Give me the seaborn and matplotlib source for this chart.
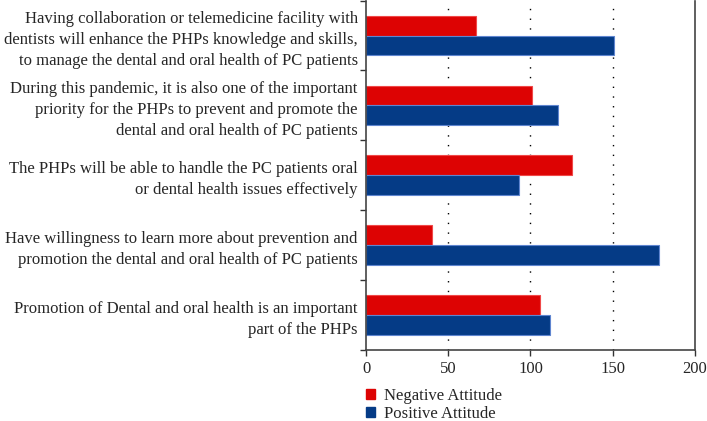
import pandas as pd
import seaborn as sns
import matplotlib.pyplot as plt
from matplotlib.ticker import FixedLocator
from matplotlib.patches import Patch

# Survey statements (top to bottom) and counts
statements = [
    'Having collaboration or telemedicine facility with\ndentists will enhance the PHPs knowledge and skills,\nto manage the dental and oral health of PC patients',
    'During this pandemic, it is also one of the important\npriority for the PHPs to prevent and promote the\ndental and oral health of PC patients',
    'The PHPs will be able to handle the PC patients oral\nor dental health issues effectively',
    'Have willingness to learn more about prevention and\npromotion the dental and oral health of PC patients',
    'Promotion of Dental and oral health is an important\npart of the PHPs',
]
negative = [67, 101, 125, 40, 106]
positive = [151, 117, 93, 178, 112]
series_names = ['Negative Attitude', 'Positive Attitude']
colors = ['#DD0303', '#053B86']

df = pd.DataFrame({'Statement': statements * 2,
                   'Count': negative + positive,
                   'Attitude': [series_names[0]] * 5 + [series_names[1]] * 5})

sns.set_style('white')
plt.rcParams['font.family'] = ['Liberation Serif', 'DejaVu Serif']

fig = plt.figure(figsize=(7.07, 4.21), dpi=100)
ax = fig.add_axes([0.5177, 0.1686, 0.4653, 0.8300])

sns.barplot(data=df, y='Statement', x='Count', hue='Attitude', order=statements,
            hue_order=series_names, palette=colors, orient='h', width=0.57,
            gap=0, saturation=1, linewidth=0.8, legend=False, ax=ax)
for bar, c in zip(ax.patches, [colors[0]] * 5 + [colors[1]] * 5):
    bar.set_edgecolor('#5f85d0' if c == colors[1] else '#f04848')

ax.set_xlim(0, 200)
ax.set_ylim(4.5, -0.5)
ax.set_xticks([0, 50, 100, 150, 200])
ax.set_xlabel('')
ax.set_ylabel('')
for v in [50, 100, 150]:
    ax.axvline(v, color='black', linestyle=(0, (1, 6)), linewidth=1.0, zorder=0)

ax.tick_params(axis='y', which='major', length=0, labelsize=12, pad=6)
ax.yaxis.set_minor_locator(FixedLocator([-0.5, 0.5, 1.5, 2.5, 3.5, 4.5]))
ax.tick_params(axis='y', which='minor', length=4, width=1, color='#333333', left=True)
ax.tick_params(axis='x', length=4, width=1, color='#333333', bottom=True, labelsize=12, pad=4)
for lab in ax.get_yticklabels():
    lab.set_ha('right')
    lab.set_multialignment('right')
    lab.set_linespacing(1.4)

for s in ['left', 'bottom', 'right']:
    ax.spines[s].set_color('#444444')
    ax.spines[s].set_linewidth(1.2)
ax.spines['top'].set_visible(False)

handles = [Patch(facecolor=c, edgecolor=c) for c in colors]
fig.legend(handles, series_names, loc='upper left', bbox_to_anchor=(0.506, 0.099),
           frameon=False, fontsize=12, handlelength=0.55, handleheight=0.55,
           handletextpad=0.5, labelspacing=0.12, borderpad=0)

fig.savefig('out.png', dpi=100)
